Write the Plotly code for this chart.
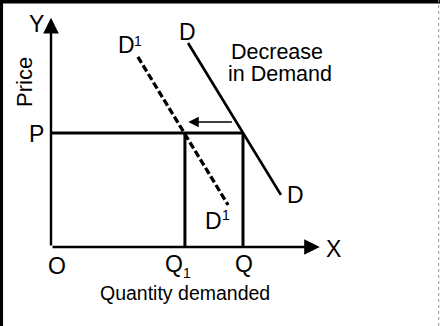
import plotly.graph_objects as go

# ---- data (economic units) ----
price_P = 4.75
quantity_Q = 8.0
quantity_Q1 = 5.58
demand_q = [5.71, 9.58]       # original demand curve D
demand_p = [8.50, 2.17]
demand1_q = [3.62, 7.38]      # decreased demand curve D1
demand1_p = [7.92, 1.75]
y_axis_top = 9.55
x_axis_end = 11.2
shift_from = 7.6
shift_to = 5.72
shift_level = 5.21

FONT = "Liberation Sans, Arial"
X0, Y0, S = 51, 247, 24  # pixel origin and pixels per unit (layout only)


def px(x, y):
    return (x - X0) / S, (Y0 - y) / S


fig = go.Figure()

line_style = dict(color="black", width=3)
fig.add_trace(go.Scatter(x=[0, quantity_Q], y=[price_P, price_P], mode="lines",
                         line=line_style, hoverinfo="skip"))
fig.add_trace(go.Scatter(x=[quantity_Q1, quantity_Q1], y=[0, price_P], mode="lines",
                         line=line_style, hoverinfo="skip"))
fig.add_trace(go.Scatter(x=[quantity_Q, quantity_Q], y=[0, price_P], mode="lines",
                         line=line_style, hoverinfo="skip"))
fig.add_trace(go.Scatter(x=demand_q, y=demand_p, mode="lines",
                         line=dict(color="black", width=2.7), hoverinfo="skip"))
fig.add_trace(go.Scatter(x=demand1_q, y=demand1_p, mode="lines",
                         line=dict(color="black", width=3.3, dash="7px,3px"), hoverinfo="skip"))

anns = []
anns.append(dict(x=0, y=y_axis_top, ax=0, ay=0, xref="x", yref="y", axref="x", ayref="y",
                 showarrow=True, arrowhead=2, arrowsize=1.3, arrowwidth=2.4, arrowcolor="black", text=""))
anns.append(dict(x=x_axis_end, y=0, ax=0, ay=0, xref="x", yref="y", axref="x", ayref="y",
                 showarrow=True, arrowhead=2, arrowsize=1.3, arrowwidth=2.4, arrowcolor="black", text=""))
anns.append(dict(x=shift_to, y=shift_level, ax=shift_from, ay=shift_level, xref="x", yref="y",
                 axref="x", ayref="y", showarrow=True, arrowhead=2, arrowsize=1.5, arrowwidth=1.4,
                 arrowcolor="black", text=""))


def label(txt, x, y, size=23, **kw):
    ux, uy = px(x, y)
    d = dict(x=ux, y=uy, xref="x", yref="y", text=txt, showarrow=False,
             font=dict(family=FONT, size=size, color="black"))
    d.update(kw)
    anns.append(d)


label("Y", 36.5, 24)
label("Price", 24, 82, 22, textangle=-90)
label("P", 36.5, 134)
label("O", 57, 266)
label("Q", 173.5, 264)
label("1", 187, 273, 14)
label("Q", 243.5, 264)
label("X", 333, 249)
label("Quantity demanded", 185, 293, 19.5)
label("D", 187, 32)
label("D", 126.5, 45)
label("1", 138, 41, 14)
label("D", 295, 195)
label("D", 213.5, 221)
label("1", 225.5, 215, 14)
label("Decrease", 229, 52, 21.5, xanchor="left")
label("in Demand", 226, 74, 21.5, xanchor="left")

fig.update_layout(
    width=440, height=326, margin=dict(l=0, r=0, t=0, b=0),
    paper_bgcolor="white", plot_bgcolor="white", showlegend=False,
    xaxis=dict(range=[-X0 / S, (440 - X0) / S], visible=False, fixedrange=True),
    yaxis=dict(range=[-(326 - Y0) / S, Y0 / S], visible=False, fixedrange=True),
    annotations=anns,
    shapes=[
        dict(type="line", xref="paper", yref="paper", x0=0, x1=1, y0=0.995, y1=0.995,
             line=dict(color="black", width=3.5)),
        dict(type="line", xref="paper", yref="paper", x0=0.003, x1=0.003, y0=0, y1=1,
             line=dict(color="black", width=3.5)),
        dict(type="line", xref="paper", yref="paper", x0=0.997, x1=0.997, y0=0, y1=1,
             line=dict(color="#999999", width=1, dash="dot")),
    ],
)
fig.write_html("out.html", config={"displayModeBar": False},
               post_script="document.body.style.margin='0';")
